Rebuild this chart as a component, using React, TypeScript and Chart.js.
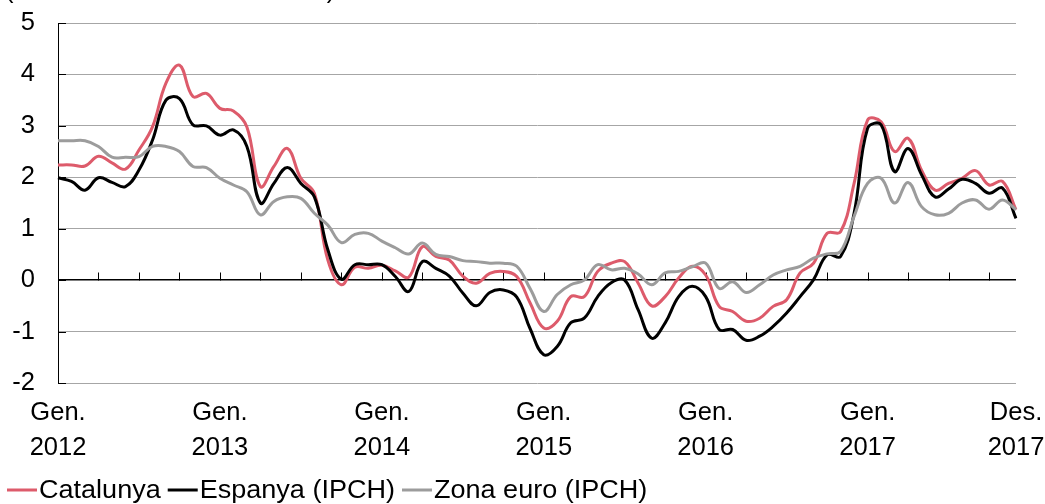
import React, { useEffect, useRef } from "react";
import { Chart, registerables } from "chart.js";

Chart.register(...registerables);

const years = [2012, 2013, 2014, 2015, 2016, 2017];
const monthNames = ["Gen.", "Febr.", "Març", "Abr.", "Maig", "Juny", "Jul.", "Ag.", "Set.", "Oct.", "Nov.", "Des."];
const categories = years.flatMap((y) => monthNames.map((m) => `${m} ${y}`));

const catalunya = [
  2.24, 2.24, 2.22, 2.41, 2.28, 2.16, 2.53, 2.98, 3.83, 4.18, 3.57, 3.63,
  3.34, 3.29, 2.98, 1.82, 2.21, 2.56, 1.98, 1.69, 0.39, -0.09, 0.25, 0.23,
  0.29, 0.18, 0.06, 0.65, 0.46, 0.39, 0.08, -0.06, 0.13, 0.17, 0.07, -0.45,
  -0.93, -0.8, -0.32, -0.32, 0.17, 0.33, 0.36, -0.06, -0.5, -0.32, 0.04, 0.27,
  0.1, -0.51, -0.61, -0.8, -0.74, -0.51, -0.38, 0.14, 0.33, 0.91, 0.94, 1.88,
  3.11, 3.08, 2.5, 2.76, 2.14, 1.75, 1.88, 1.98, 2.13, 1.85, 1.92, 1.37,
];

const espanya = [
  1.99, 1.92, 1.75, 1.99, 1.9, 1.82, 2.14, 2.72, 3.5, 3.53, 3.02, 3.0,
  2.82, 2.92, 2.6, 1.5, 1.88, 2.19, 1.88, 1.62, 0.59, 0.02, 0.3, 0.3,
  0.3, 0.07, -0.22, 0.36, 0.23, 0.08, -0.25, -0.5, -0.24, -0.19, -0.33, -0.95,
  -1.45, -1.29, -0.83, -0.74, -0.32, -0.05, 0.0, -0.58, -1.13, -0.83, -0.32, -0.12,
  -0.32, -0.96, -0.96, -1.17, -1.09, -0.9, -0.64, -0.32, 0.01, 0.49, 0.46, 1.3,
  2.95, 3.02, 2.11, 2.56, 2.05, 1.62, 1.77, 1.96, 1.88, 1.69, 1.79, 1.2,
];

const zonaEuro = [
  2.71, 2.71, 2.71, 2.6, 2.39, 2.39, 2.4, 2.6, 2.6, 2.5, 2.21, 2.19,
  1.98, 1.85, 1.72, 1.27, 1.53, 1.62, 1.59, 1.3, 1.07, 0.73, 0.89, 0.91,
  0.76, 0.63, 0.51, 0.72, 0.5, 0.46, 0.38, 0.36, 0.33, 0.33, 0.27, -0.17,
  -0.61, -0.28, -0.09, 0.0, 0.3, 0.2, 0.23, 0.12, -0.09, 0.14, 0.17, 0.26,
  0.33, -0.16, -0.03, -0.24, -0.09, 0.1, 0.2, 0.27, 0.43, 0.51, 0.56, 1.24,
  1.88, 1.98, 1.5, 1.9, 1.43, 1.27, 1.3, 1.5, 1.56, 1.38, 1.56, 1.37,
];

const seriesNames = ["Catalunya", "Espanya (IPCH)", "Zona euro (IPCH)"];
const seriesColors = ["#DD5B6B", "#000000", "#9C9C9C"];
const yMin = -2;
const yMax = 5;
const titleText = "(taxa de variació anual en %)";

const FONT_FAMILY = "'Liberation Sans', Arial, sans-serif";
const FONT_SIZE = 25.5;
const TEXT_STRETCH = 1.06;

const overlayPlugin = {
  id: "overlay",
  beforeDatasetsDraw(chart: any) {
    const { ctx, chartArea, scales } = chart;
    const x = scales.x;
    const y = scales.y;
    ctx.save();
    ctx.strokeStyle = "#000000";
    ctx.lineWidth = 1;
    for (let v = yMin; v <= yMax; v++) {
      const py = Math.round(y.getPixelForValue(v)) + 0.5;
      ctx.beginPath();
      ctx.moveTo(chartArea.left, py);
      ctx.lineTo(chartArea.left + 8, py);
      ctx.stroke();
    }
    const zy = Math.round(y.getPixelForValue(0)) + 0.5;
    for (let i = 0; i < categories.length; i += 3) {
      const px = Math.round(x.getPixelForValue(i)) + 0.5;
      ctx.beginPath();
      ctx.moveTo(px, zy);
      ctx.lineTo(px, zy - 8);
      ctx.stroke();
    }
    ctx.restore();
  },
  afterDraw(chart: any) {
    const { ctx } = chart;
    ctx.save();
    ctx.font = `${FONT_SIZE}px ${FONT_FAMILY}`;
    ctx.fillStyle = "#000000";
    ctx.textBaseline = "alphabetic";
    ctx.textAlign = "left";
    ctx.fillText(titleText, 5, -2.5);
    ctx.textBaseline = "middle";
    let lx = 7;
    const ly = 490;
    seriesNames.forEach((name, i) => {
      ctx.strokeStyle = seriesColors[i];
      ctx.lineWidth = 3;
      ctx.beginPath();
      ctx.moveTo(lx, ly);
      ctx.lineTo(lx + 30, ly);
      ctx.stroke();
      const tx = lx + 32;
      ctx.save();
      ctx.translate(tx, ly + 0.5);
      ctx.scale(TEXT_STRETCH, 1);
      ctx.fillText(name, 0, 0);
      ctx.restore();
      lx = tx + ctx.measureText(name).width * TEXT_STRETCH + 7;
    });
    ctx.restore();
  },
};

export default function App() {
  const canvasRef = useRef<HTMLCanvasElement | null>(null);

  useEffect(() => {
    if (!canvasRef.current) return;
    Chart.defaults.font.family = FONT_FAMILY;
    Chart.defaults.font.size = FONT_SIZE;
    Chart.defaults.color = "#000000";

    const series = [catalunya, espanya, zonaEuro];
    const orders = [2, 1, 0];
    const chart = new Chart(canvasRef.current, {
      type: "line",
      data: {
        labels: categories,
        datasets: series.map((data, i) => ({
          label: seriesNames[i],
          data,
          borderColor: seriesColors[i],
          backgroundColor: seriesColors[i],
          borderWidth: 3,
          pointRadius: 0,
          tension: 0.4,
          fill: false,
          order: orders[i],
        })),
      },
      options: {
        animation: false,
        responsive: false,
        maintainAspectRatio: false,
        layout: { padding: { top: 23, right: 29, bottom: 41, left: 0 } },
        plugins: {
          legend: { display: false },
          tooltip: { enabled: false },
          title: { display: false },
        },
        scales: {
          x: {
            type: "category",
            offset: false,
            grid: { display: false, drawTicks: false },
            border: { display: false },
            ticks: {
              autoSkip: false,
              maxRotation: 0,
              minRotation: 0,
              padding: 12,
              font: { size: FONT_SIZE, lineHeight: 1.38 },
              color: "#000000",
              callback: (_v: any, index: number) => {
                const parts = categories[index].split(" ");
                if (index % 12 === 0 || index === categories.length - 1) return parts;
                return null;
              },
            },
            afterFit: (scale: any) => {
              scale.height = 80;
              scale.paddingLeft = 0;
              scale.paddingRight = 0;
            },
          },
          y: {
            min: yMin,
            max: yMax,
            ticks: {
              stepSize: 1,
              padding: 23,
              color: "#000000",
              font: { size: FONT_SIZE },
            },
            grid: {
              drawTicks: false,
              color: (c: any) => (c.tick && c.tick.value === 0 ? "#000000" : "#A6A6A6"),
              lineWidth: (c: any) => (c.tick && c.tick.value === 0 ? 1.5 : 1),
            },
            border: { display: true, color: "#000000", width: 1 },
            afterFit: (scale: any) => {
              scale.width = 58;
              scale.paddingTop = 0;
              scale.paddingBottom = 0;
            },
          },
        },
      },
      plugins: [overlayPlugin],
    });
    return () => chart.destroy();
  }, []);

  return (
    <div style={{ position: "absolute", left: 0, top: 0, width: 1045, height: 504, background: "#ffffff" }}>
      <canvas ref={canvasRef} width={1045} height={504} style={{ width: 1045, height: 504, display: "block" }} />
    </div>
  );
}
